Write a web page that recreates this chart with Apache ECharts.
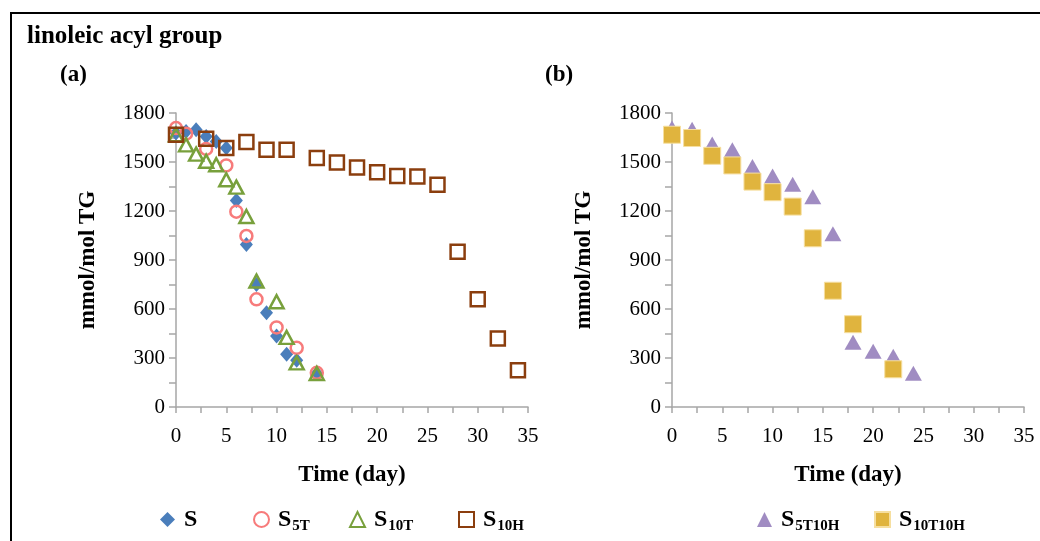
<!DOCTYPE html>
<html>
<head>
<meta charset="utf-8">
<script src="https://cdn.jsdelivr.net/npm/echarts@6/dist/echarts.min.js"></script>
<style>
  html, body { margin: 0; padding: 0; background: #fff; }
  #chart { width: 1040px; height: 541px; }
</style>
</head>
<body>
<div id="chart"></div>
<script>
// days and values
var sDay = [0, 1, 2, 3, 4, 5, 6, 7, 8, 9, 10, 11, 12, 14];
var sVal = [1677, 1687, 1697, 1656, 1626, 1585, 1264, 995, 750, 577, 434, 323, 286, 205];

var s5tDay = [0, 1, 3, 5, 6, 7, 8, 10, 12, 14];
var s5tVal = [1708, 1673, 1580, 1479, 1196, 1047, 659, 487, 362, 209];

var s10tDay = [0, 1, 2, 3, 4, 5, 6, 7, 8, 10, 11, 12, 14];
var s10tVal = [1667, 1605, 1548, 1505, 1483, 1391, 1346, 1166, 771, 644, 426, 270, 205];

var s10hDay = [0, 3, 5, 7, 9, 11, 14, 16, 18, 20, 22, 24, 26, 28, 30, 32, 34];
var s10hVal = [1667, 1642, 1585, 1622, 1575, 1575, 1524, 1497, 1466, 1438, 1415, 1411, 1360, 951, 659, 420, 225];

var s5t10hDay = [0, 2, 4, 6, 8, 10, 12, 14, 16, 18, 20, 22, 24];
var s5t10hVal = [1708, 1700, 1610, 1575, 1472, 1415, 1364, 1288, 1060, 397, 342, 310, 207];

var s10t10hDay = [0, 2, 4, 6, 8, 10, 12, 14, 16, 18, 22];
var s10t10hVal = [1667, 1647, 1538, 1479, 1380, 1315, 1227, 1033, 712, 507, 231];

var xTicks = [0, 35, 5];      // min, max, interval
var yTicks = [0, 1800, 300];

function pairs(d, v) {
  return d.map(function (x, i) { return [x, v[i]]; });
}

var chart = echarts.init(document.getElementById('chart'));
var serif = '"Liberation Serif", "DejaVu Serif", serif';
var axisGray = '#a6a6a6';

function xAxis(idx) {
  return {
    type: 'value', gridIndex: idx,
    min: xTicks[0], max: xTicks[1], interval: xTicks[2],
    name: 'Time (day)', nameLocation: 'middle', nameGap: 57,
    nameTextStyle: { fontFamily: serif, fontWeight: 'bold', fontSize: 23, color: '#000' },
    axisLine: { lineStyle: { color: axisGray, width: 1.5 } },
    axisTick: { show: true, length: 6, lineStyle: { color: axisGray, width: 1.5 } },
    minorTick: { show: true, splitNumber: 2, length: 6, lineStyle: { color: axisGray, width: 1.5 } },
    axisLabel: { fontFamily: serif, fontSize: 21, color: '#000', margin: 19 },
    splitLine: { show: false }
  };
}

function yAxis(idx) {
  return {
    type: 'value', gridIndex: idx,
    min: yTicks[0], max: yTicks[1], interval: yTicks[2],
    name: 'mmol/mol TG', nameLocation: 'middle', nameGap: 76, nameRotate: 90,
    nameTextStyle: { fontFamily: serif, fontWeight: 'bold', fontSize: 23, color: '#000' },
    axisLine: { show: true, lineStyle: { color: axisGray, width: 1.5 } },
    axisTick: { show: true, length: 7, lineStyle: { color: axisGray, width: 1.5 } },
    minorTick: { show: true, splitNumber: 2, length: 7, lineStyle: { color: axisGray, width: 1.5 } },
    axisLabel: {
      fontFamily: serif, fontSize: 21, color: '#000', margin: 11,
      formatter: function (v) { return String(v); }
    },
    splitLine: { show: false }
  };
}

var subNames = {
  'S': ['S', ''],
  'S5T': ['S', '5T'],
  'S10T': ['S', '10T'],
  'S10H': ['S', '10H'],
  'S5T10H': ['S', '5T10H'],
  'S10T10H': ['S', '10T10H']
};

function legend(name, left) {
  return {
    data: [name], left: left, top: 500, itemWidth: 15, itemHeight: 15, itemGap: 0,
    formatter: function (n) {
      var p = subNames[n];
      return '{m|' + p[0] + '}' + (p[1] ? '{s|' + p[1] + '}' : '{s| }');
    },
    textStyle: {
      rich: {
        m: { fontFamily: serif, fontWeight: 'bold', fontSize: 24, color: '#000', lineHeight: 28, padding: [0, 0, 0, 4] },
        s: { fontFamily: serif, fontWeight: 'bold', fontSize: 15, color: '#000', lineHeight: 28, padding: [14, 0, 0, 1] }
      }
    }
  };
}

var option = {
  animation: false,
  backgroundColor: '#fff',
  graphic: [
    { type: 'rect', shape: { x: 11, y: 13, width: 1100, height: 600 }, style: { fill: 'none', stroke: '#000', lineWidth: 2 } },
    { type: 'text', left: 27, top: 24, style: { text: 'linoleic acyl group', font: 'bold 25px ' + serif, fill: '#000' } },
    { type: 'text', left: 60, top: 64, style: { text: '(a)', font: 'bold 23px ' + serif, fill: '#000' } },
    { type: 'text', left: 545, top: 64, style: { text: '(b)', font: 'bold 23px ' + serif, fill: '#000' } }
  ],
  grid: [
    { left: 176, top: 113, width: 352, height: 294 },
    { left: 672, top: 113, width: 352, height: 294 }
  ],
  xAxis: [xAxis(0), xAxis(1)],
  yAxis: [yAxis(0), yAxis(1)],
  legend: [
    legend('S', 155),
    legend('S5T', 248),
    legend('S10T', 344),
    legend('S10H', 453),
    legend('S5T10H', 752),
    legend('S10T10H', 869)
  ],
  series: [
    {
      name: 'S', type: 'scatter', xAxisIndex: 0, yAxisIndex: 0,
      symbol: 'diamond', symbolSize: [13, 15],
      itemStyle: { color: '#4a7ebb', opacity: 1 },
      data: pairs(sDay, sVal)
    },
    {
      name: 'S5T', type: 'scatter', xAxisIndex: 0, yAxisIndex: 0,
      symbol: 'circle', symbolSize: 12,
      itemStyle: { color: 'rgba(255,255,255,0)', borderColor: '#f77b7b', borderWidth: 2.5, opacity: 1 },
      data: pairs(s5tDay, s5tVal)
    },
    {
      name: 'S10T', type: 'scatter', xAxisIndex: 0, yAxisIndex: 0,
      symbol: 'triangle', symbolSize: [14, 13],
      itemStyle: { color: 'rgba(255,255,255,0)', borderColor: '#78a03c', borderWidth: 2.5, opacity: 1 },
      data: pairs(s10tDay, s10tVal)
    },
    {
      name: 'S10H', type: 'scatter', xAxisIndex: 0, yAxisIndex: 0,
      symbol: 'rect', symbolSize: 14,
      itemStyle: { color: 'rgba(255,255,255,0)', borderColor: '#8b3e0e', borderWidth: 2.5, opacity: 1 },
      data: pairs(s10hDay, s10hVal)
    },
    {
      name: 'S5T10H', type: 'scatter', xAxisIndex: 1, yAxisIndex: 1,
      symbol: 'triangle', symbolSize: [17, 15],
      itemStyle: { color: '#a08cc2', opacity: 1 },
      data: pairs(s5t10hDay, s5t10hVal)
    },
    {
      name: 'S10T10H', type: 'scatter', xAxisIndex: 1, yAxisIndex: 1,
      symbol: 'rect', symbolSize: 17,
      itemStyle: { color: '#e0b43e', borderColor: '#f6dfa0', borderWidth: 1, opacity: 1 },
      data: pairs(s10t10hDay, s10t10hVal)
    }
  ]
};

chart.setOption(option);
</script>
</body>
</html>
